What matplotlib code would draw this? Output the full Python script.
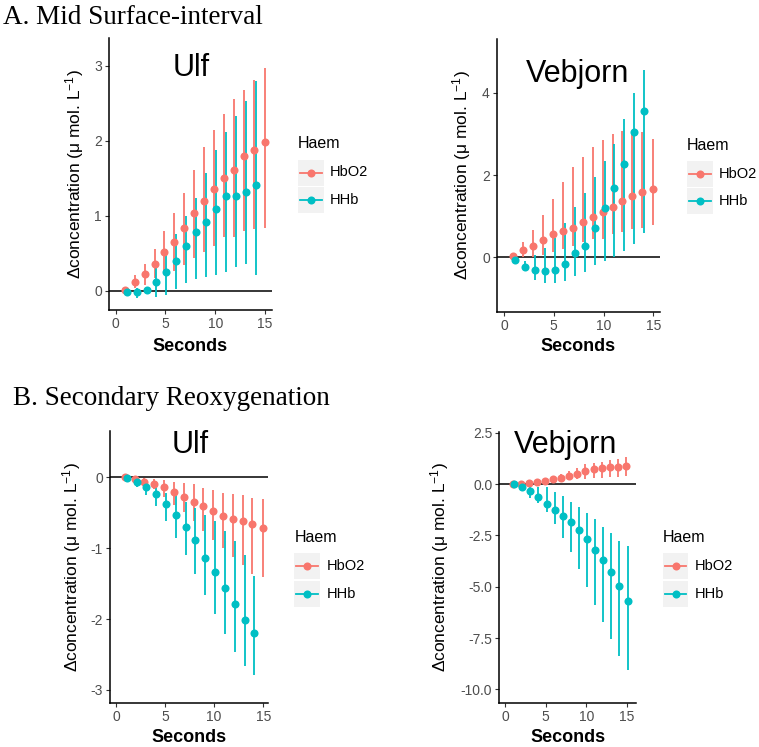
import numpy as np
import matplotlib
matplotlib.use("Agg")
import matplotlib.pyplot as plt
from matplotlib.patches import Rectangle
from matplotlib.lines import Line2D

plt.rcParams['font.family'] = ['Liberation Sans', 'DejaVu Sans']
plt.rcParams['mathtext.fontset'] = 'custom'
plt.rcParams['mathtext.rm'] = 'Liberation Sans'
plt.rcParams['mathtext.default'] = 'regular'
plt.rcParams['axes.unicode_minus'] = False

# ---------------- data ----------------
seconds = list(range(1, 16))
haem = ["HbO2", "HHb"]
colors = {"HbO2": "#F8766D", "HHb": "#00BFC4"}

# A. Mid surface-interval, Ulf
a_ulf_hbo2 = [0.01, 0.11, 0.22, 0.36, 0.51, 0.65, 0.84, 1.03, 1.20, 1.35, 1.50, 1.61, 1.79, 1.87, 1.98]
a_ulf_hbo2_lo = [-0.01, 0.03, 0.08, 0.17, 0.23, 0.26, 0.34, 0.44, 0.52, 0.60, 0.71, 0.72, 0.80, 0.82, 0.84]
a_ulf_hbo2_hi = [0.03, 0.21, 0.35, 0.55, 0.80, 1.04, 1.30, 1.61, 1.91, 2.14, 2.36, 2.55, 2.68, 2.81, 2.97]
a_ulf_hhb = [-0.02, -0.02, 0.01, 0.12, 0.25, 0.40, 0.60, 0.78, 0.91, 1.09, 1.26, 1.26, 1.32, 1.41]
a_ulf_hhb_lo = [-0.04, -0.10, -0.04, -0.09, -0.06, 0.02, 0.10, 0.16, 0.18, 0.21, 0.25, 0.31, 0.35, 0.21]
a_ulf_hhb_hi = [0.00, 0.03, 0.05, 0.30, 0.56, 0.75, 1.00, 1.23, 1.57, 1.88, 2.11, 2.33, 2.53, 2.80]

# A. Mid surface-interval, Vebjorn
a_veb_hbo2 = [0.04, 0.17, 0.28, 0.42, 0.56, 0.64, 0.72, 0.85, 0.97, 1.11, 1.22, 1.36, 1.48, 1.60, 1.65]
a_veb_hbo2_lo = [0.01, 0.00, 0.00, 0.05, 0.12, 0.20, 0.28, 0.38, 0.44, 0.44, 0.56, 0.62, 0.68, 0.72, 0.79]
a_veb_hbo2_hi = [0.07, 0.37, 0.67, 1.03, 1.42, 1.84, 2.20, 2.45, 2.68, 2.85, 3.00, 3.08, 3.07, 3.05, 2.88]
a_veb_hhb = [-0.06, -0.23, -0.31, -0.32, -0.31, -0.16, 0.10, 0.28, 0.72, 1.19, 1.68, 2.28, 3.05, 3.55]
a_veb_hhb_lo = [-0.09, -0.34, -0.54, -0.62, -0.62, -0.58, -0.46, -0.36, -0.18, -0.08, 0.02, 0.16, 0.33, 0.60]
a_veb_hhb_hi = [-0.03, -0.10, 0.06, 0.23, 0.47, 0.83, 1.23, 1.57, 1.95, 2.35, 2.75, 3.36, 4.00, 4.55]

# B. Secondary reoxygenation, Ulf
b_ulf_hbo2 = [0.00, -0.02, -0.06, -0.09, -0.14, -0.20, -0.28, -0.35, -0.40, -0.48, -0.54, -0.59, -0.62, -0.66, -0.71]
b_ulf_hbo2_lo = [-0.01, -0.04, -0.10, -0.17, -0.27, -0.39, -0.49, -0.62, -0.76, -0.88, -1.00, -1.13, -1.24, -1.36, -1.40]
b_ulf_hbo2_hi = [0.01, 0.00, -0.01, -0.02, -0.03, -0.07, -0.08, -0.09, -0.15, -0.18, -0.22, -0.24, -0.25, -0.29, -0.31]
b_ulf_hhb = [-0.01, -0.06, -0.13, -0.23, -0.37, -0.53, -0.70, -0.89, -1.14, -1.34, -1.56, -1.78, -2.01, -2.20]
b_ulf_hhb_lo = [-0.02, -0.13, -0.25, -0.41, -0.61, -0.85, -1.09, -1.37, -1.66, -1.93, -2.21, -2.46, -2.66, -2.79]
b_ulf_hhb_hi = [0.00, -0.03, -0.06, -0.13, -0.22, -0.25, -0.34, -0.43, -0.53, -0.62, -0.75, -0.90, -1.09, -1.39]

# B. Secondary reoxygenation, Vebjorn
b_veb_hbo2 = [0.00, 0.02, 0.06, 0.11, 0.16, 0.23, 0.30, 0.38, 0.49, 0.62, 0.72, 0.77, 0.81, 0.84, 0.89]
b_veb_hbo2_lo = [-0.02, -0.01, 0.00, 0.03, 0.07, 0.12, 0.16, 0.20, 0.24, 0.26, 0.28, 0.30, 0.33, 0.35, 0.40]
b_veb_hbo2_hi = [0.02, 0.05, 0.12, 0.18, 0.26, 0.36, 0.47, 0.62, 0.78, 0.96, 1.02, 1.09, 1.17, 1.23, 1.30]
b_veb_hhb = [0.00, -0.13, -0.34, -0.63, -0.97, -1.26, -1.55, -1.86, -2.25, -2.69, -3.19, -3.72, -4.29, -4.98, -5.71]
b_veb_hhb_lo = [-0.02, -0.24, -0.66, -0.91, -1.38, -1.93, -2.61, -3.33, -4.14, -5.02, -5.87, -6.73, -7.57, -8.38, -9.08]
b_veb_hhb_hi = [0.02, -0.02, -0.05, -0.13, -0.13, -0.37, -0.57, -0.86, -1.13, -1.42, -1.70, -2.07, -2.36, -2.75, -3.00]

x_ticks = [0, 5, 10, 15]
a_ulf_yticks = [0, 1, 2, 3]
a_veb_yticks = [0, 2, 4]
b_ulf_yticks = [0, -1, -2, -3]
b_veb_yticks = [2.5, 0.0, -2.5, -5.0, -7.5, -10.0]

# ---------------- figure ----------------
W, H = 759, 747
fig = plt.figure(figsize=(W / 100, H / 100), dpi=100)
fig.patch.set_facecolor("white")

MS = 5.8
LW = 1.3


def px_axes(l, t, r, b):
    return fig.add_axes([l / W, 1 - b / H, (r - l) / W, (b - t) / H])


ylabel_txt = "\u0394concentration (\u03bc mol. L$^{-1}$)"
DODGE = 0.1


def panel(rect, xlim, ylim, yticks, yfmt, series, name, name_xy, ylab_px, xlab_py):
    l, t, r, b = rect
    ax = px_axes(l, t, r, b)
    ax.set_xlim(*xlim)
    ax.set_ylim(*ylim)
    for s in ["top", "right"]:
        ax.spines[s].set_visible(False)
    for s in ["left", "bottom"]:
        ax.spines[s].set_linewidth(1.1)
        ax.spines[s].set_color("black")
    ax.axhline(0, color="black", lw=1.1, zorder=1)
    xs_all = []
    for i, (key, m, lo, hi) in enumerate(series):
        n = len(m)
        xs = []
        for j in range(n):
            present = [len(s[1]) > j for s in series]
            if sum(present) > 1:
                xs.append(seconds[j] + (-DODGE if i == 0 else DODGE))
            else:
                xs.append(seconds[j])
        xs_all.append(xs)
        ax.vlines(xs, lo, hi, color=colors[key], lw=LW, zorder=2)
    for i, (key, m, lo, hi) in enumerate(series):
        ax.plot(xs_all[i], m, "o", color=colors[key], ms=MS, mec="none", zorder=3)
    ax.set_xticks(x_ticks)
    ax.set_yticks(yticks)
    ax.set_yticklabels([yfmt(v) for v in yticks])
    ax.tick_params(axis="both", colors="#333333", labelcolor="#4D4D4D",
                   labelsize=10, length=3, width=0.8, pad=2)
    ax.set_xlabel("Seconds", fontsize=13, fontweight="bold", va="center")
    ax.xaxis.set_label_coords(0.5, (b - xlab_py) / (b - t))
    ax.set_ylabel(ylabel_txt, fontsize=12.5, va="center")
    ax.yaxis.set_label_coords((ylab_px - l) / (r - l), 0.5)
    ax.text(name_xy[0], name_xy[1], name, fontsize=22, ha="center", va="center",
            color="black", zorder=4)
    return ax


def legend(left, key_top):
    kw, kh, gap = 25.6, 26.0, 1.4
    fig.text(left / W, 1 - (key_top - 15.5) / H, "Haem", fontsize=11.5,
             ha="left", va="center")
    for i, key in enumerate(haem):
        top = key_top + i * (kh + gap)
        fig.add_artist(Rectangle((left / W, 1 - (top + kh) / H), kw / W, kh / H,
                                 transform=fig.transFigure, facecolor="#F2F2F2",
                                 edgecolor="none"))
        cy = 1 - (top + kh / 2) / H
        fig.add_artist(Line2D([(left + 2) / W, (left + kw - 2) / W], [cy, cy],
                              transform=fig.transFigure, color=colors[key], lw=LW))
        fig.add_artist(Line2D([(left + kw / 2) / W], [cy], transform=fig.transFigure,
                              color=colors[key], marker="o", ms=MS, mec="none"))
        fig.text((left + 32) / W, cy, key, fontsize=10.5, ha="left", va="center")


int_fmt = lambda v: f"{v:g}"
dec_fmt = lambda v: f"{v:.1f}"

panel((108.7, 38, 272, 310), (-0.70, 15.70), (-0.257, 3.369), a_ulf_yticks, int_fmt,
      [("HbO2", a_ulf_hbo2, a_ulf_hbo2_lo, a_ulf_hbo2_hi),
       ("HHb", a_ulf_hhb, a_ulf_hhb_lo, a_ulf_hhb_hi)],
      "Ulf", (7.6, 2.97), 75, 346)
legend(298, 159.5)

panel((496.7, 39.3, 660, 311.7), (-0.73, 15.67), (-1.32, 5.30), a_veb_yticks, int_fmt,
      [("HbO2", a_veb_hbo2, a_veb_hbo2_lo, a_veb_hbo2_hi),
       ("HHb", a_veb_hhb, a_veb_hhb_lo, a_veb_hhb_hi)],
      "Vebjorn", (7.43, 4.45), 461.7, 346)
legend(687, 161)

panel((110, 430.7, 268, 702.7), (-0.61, 15.49), (-3.18, 0.66), b_ulf_yticks, int_fmt,
      [("HbO2", b_ulf_hbo2, b_ulf_hbo2_lo, b_ulf_hbo2_hi),
       ("HHb", b_ulf_hhb, b_ulf_hhb_lo, b_ulf_hhb_hi)],
      "Ulf", (7.54, 0.46), 71.7, 737)
legend(294.3, 553.3)

panel((499.3, 431.7, 636, 702.7), (-0.74, 16.15), (-10.65, 2.55), b_veb_yticks, dec_fmt,
      [("HbO2", b_veb_hbo2, b_veb_hbo2_lo, b_veb_hbo2_hi),
       ("HHb", b_veb_hhb, b_veb_hhb_lo, b_veb_hhb_hi)],
      "Vebjorn", (7.46, 1.90), 440, 737)
legend(662.7, 553.3)

fig.text(3 / W, 1 - 18 / H, "A. Mid Surface-interval", family="Liberation Serif",
         fontsize=19.5, ha="left", va="center")
fig.text(12.7 / W, 1 - 398.5 / H, "B. Secondary Reoxygenation", family="Liberation Serif",
         fontsize=19.5, ha="left", va="center")

fig.savefig("out.png", dpi=100, facecolor="white")
